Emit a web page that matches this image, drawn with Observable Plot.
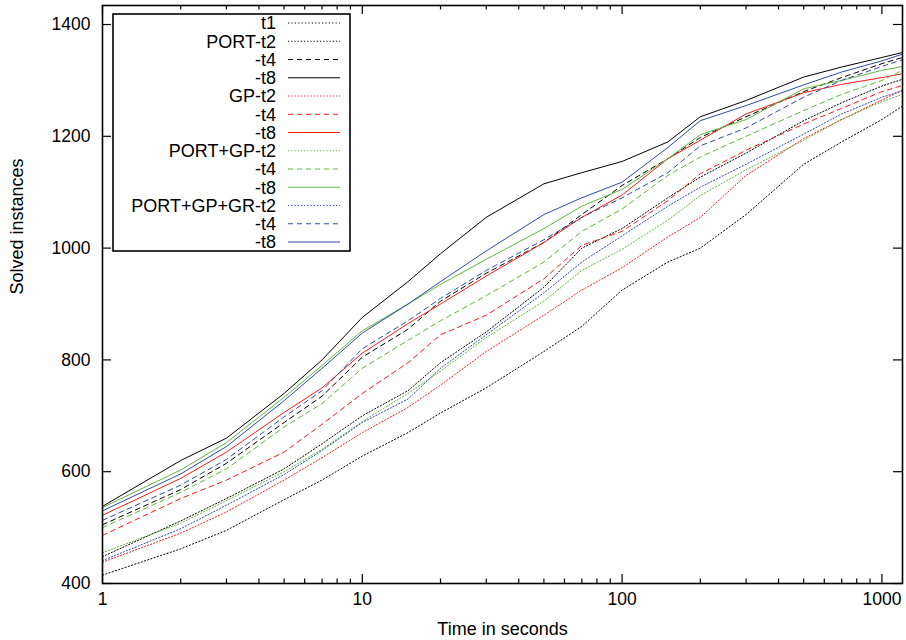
<!DOCTYPE html>
<html>
<head>
<meta charset="utf-8">
<script src="https://cdn.jsdelivr.net/npm/d3@7"></script>
<script src="https://cdn.jsdelivr.net/npm/@observablehq/plot@0.6"></script>
<style>
  html, body { margin: 0; padding: 0; background: #fff; }
  #chart { position: relative; width: 906px; height: 640px; }
</style>
</head>
<body>
<div id="chart"></div>
<script>
// ---- data ----
const times = [1, 2, 3, 5, 7, 10, 15, 20, 30, 50, 70, 100, 150, 200, 300, 500, 700, 1000, 1200];

const t1      = [415, 462, 495, 550, 585, 628, 670, 705, 750, 815, 860, 925, 975, 1000, 1060, 1150, 1190, 1230, 1254];
const portT2  = [448, 512, 552, 605, 650, 700, 745, 795, 850, 930, 1000, 1035, 1090, 1127, 1170, 1228, 1260, 1290, 1302];
const portT4  = [505, 568, 615, 688, 735, 805, 855, 905, 955, 1010, 1060, 1112, 1160, 1198, 1235, 1280, 1305, 1330, 1341];
const portT8  = [538, 620, 660, 740, 800, 876, 940, 990, 1055, 1115, 1135, 1155, 1190, 1235, 1264, 1306, 1324, 1341, 1350];
const gpT2    = [438, 490, 528, 585, 625, 670, 715, 755, 815, 880, 925, 965, 1020, 1055, 1130, 1196, 1230, 1265, 1283];
const gpT4    = [486, 552, 585, 635, 685, 740, 795, 845, 880, 945, 1005, 1030, 1085, 1133, 1175, 1222, 1250, 1280, 1291];
const gpT8    = [522, 588, 635, 706, 750, 812, 865, 900, 950, 1010, 1055, 1095, 1160, 1193, 1240, 1278, 1293, 1305, 1312];
const pgT2    = [455, 508, 548, 600, 640, 690, 740, 780, 840, 905, 960, 998, 1050, 1094, 1140, 1193, 1230, 1262, 1275];
const pgT4    = [500, 563, 605, 680, 722, 785, 835, 870, 915, 975, 1030, 1070, 1130, 1163, 1200, 1246, 1275, 1300, 1318];
const pgT8    = [536, 603, 652, 733, 790, 852, 900, 935, 980, 1035, 1075, 1105, 1160, 1203, 1230, 1285, 1300, 1318, 1325];
const pggT2   = [441, 498, 540, 595, 638, 688, 730, 785, 845, 920, 975, 1022, 1075, 1109, 1150, 1204, 1240, 1270, 1281];
const pggT4   = [513, 576, 622, 698, 745, 820, 870, 910, 960, 1015, 1055, 1090, 1135, 1183, 1215, 1270, 1300, 1325, 1337];
const pggT8   = [530, 596, 645, 727, 785, 848, 900, 940, 995, 1060, 1090, 1118, 1180, 1228, 1255, 1292, 1315, 1335, 1347];

const seriesNames = ["t1", "PORT-t2", "-t4", "-t8", "GP-t2", "-t4", "-t8",
                     "PORT+GP-t2", "-t4", "-t8", "PORT+GP+GR-t2", "-t4", "-t8"];
const seriesValues = [t1, portT2, portT4, portT8, gpT2, gpT4, gpT8, pgT2, pgT4, pgT8, pggT2, pggT4, pggT8];

const xTickValues = [1, 10, 100, 1000];
const xTickLabels = ["1", "10", "100", "1000"];
const yTickValues = [400, 600, 800, 1000, 1200, 1400];
const yTickLabels = ["400", "600", "800", "1000", "1200", "1400"];

// ---- styles ----
const BLACK = "#000000", RED = "#ff1a1a", GREEN = "#5cb83c", BLUE = "#2d4aa8";
const DOT = "1.2,2", DASH = "5,4";
const styles = [
  {stroke: BLACK, dash: "1.2,2.2"},
  {stroke: BLACK, dash: DOT}, {stroke: BLACK, dash: DASH}, {stroke: BLACK, dash: null},
  {stroke: RED, dash: DOT},   {stroke: RED, dash: DASH},   {stroke: RED, dash: null},
  {stroke: GREEN, dash: DOT}, {stroke: GREEN, dash: DASH}, {stroke: GREEN, dash: null},
  {stroke: BLUE, dash: DOT},  {stroke: BLUE, dash: DASH},  {stroke: BLUE, dash: null}
];

const rows = [];
seriesValues.forEach((vals, s) => vals.forEach((v, i) => rows.push({s, t: times[i], v})));

const minorX = [];
for (const base of [1, 10, 100]) for (let k = 2; k <= 9; k++) if (base * k <= 1200) minorX.push(base * k);

const W = 906, H = 640;
const mL = 102, mR = 4, mT = 5, mB = 57;
const pw = W - mL - mR, ph = H - mT - mB;
const FONT = "Liberation Sans, Arial, Helvetica, sans-serif";

const lineMarks = seriesValues.map((_, s) =>
  Plot.line(rows.filter(r => r.s === s), {
    x: "t", y: "v", stroke: styles[s].stroke, strokeWidth: 1,
    strokeDasharray: styles[s].dash
  })
);

const plot = Plot.plot({
  width: W, height: H,
  marginLeft: mL, marginRight: mR, marginTop: mT, marginBottom: mB,
  style: {fontFamily: FONT, fontSize: "17.5px", color: "#000", background: "#fff"},
  x: {type: "log", domain: [1, 1200]},
  y: {domain: [400, 1434]},
  marks: [
    ...lineMarks,
    // inward ticks (bottom/top, left/right)
    Plot.tickX(xTickValues, {x: d => d, insetTop: ph - 9, stroke: "#000", strokeWidth: 1.2}),
    Plot.tickX(xTickValues, {x: d => d, insetBottom: ph - 9, stroke: "#000", strokeWidth: 1.2}),
    Plot.tickX(minorX, {x: d => d, insetTop: ph - 4.5, stroke: "#000", strokeWidth: 1.2}),
    Plot.tickX(minorX, {x: d => d, insetBottom: ph - 4.5, stroke: "#000", strokeWidth: 1.2}),
    Plot.tickY(yTickValues, {y: d => d, insetRight: pw - 9, stroke: "#000", strokeWidth: 1.2}),
    Plot.tickY(yTickValues, {y: d => d, insetLeft: pw - 9, stroke: "#000", strokeWidth: 1.2}),
    Plot.frame({stroke: "#000", strokeWidth: 1.6}),
    Plot.axisX(xTickValues, {tickSize: 0, tickPadding: 9,
      tickFormat: d => xTickLabels[xTickValues.indexOf(d)], label: null}),
    Plot.axisY(yTickValues, {tickSize: 0, tickPadding: 12,
      tickFormat: d => yTickLabels[yTickValues.indexOf(d)], label: null}),
    Plot.text(["Time in seconds"], {frameAnchor: "bottom", dy: 51, fontSize: 18, fill: "#000"}),
    Plot.text(["Solved instances"], {frameAnchor: "left", dx: -85, rotate: -90, fontSize: 18, fill: "#000"})
  ]
});

document.getElementById("chart").appendChild(plot);

// ---- legend box (inside plot, top-left) ----
const svg = d3.select(plot);
const lg = svg.append("g").attr("font-family", FONT).attr("font-size", 18);
const bx = 113, by = 14, bw = 237, bh = 237;
lg.append("rect").attr("x", bx).attr("y", by).attr("width", bw).attr("height", bh)
  .attr("fill", "#fff").attr("stroke", "#000").attr("stroke-width", 1.6);
seriesNames.forEach((name, i) => {
  const yy = 23 + i * 18.25;
  lg.append("text").attr("x", 276).attr("y", yy).attr("dy", "0.36em")
    .attr("text-anchor", "end").attr("fill", "#000").text(name);
  lg.append("line").attr("x1", 288).attr("x2", 340).attr("y1", yy).attr("y2", yy)
    .attr("stroke", styles[i].stroke).attr("stroke-width", 1)
    .attr("stroke-dasharray", styles[i].dash);
});
</script>
</body>
</html>
